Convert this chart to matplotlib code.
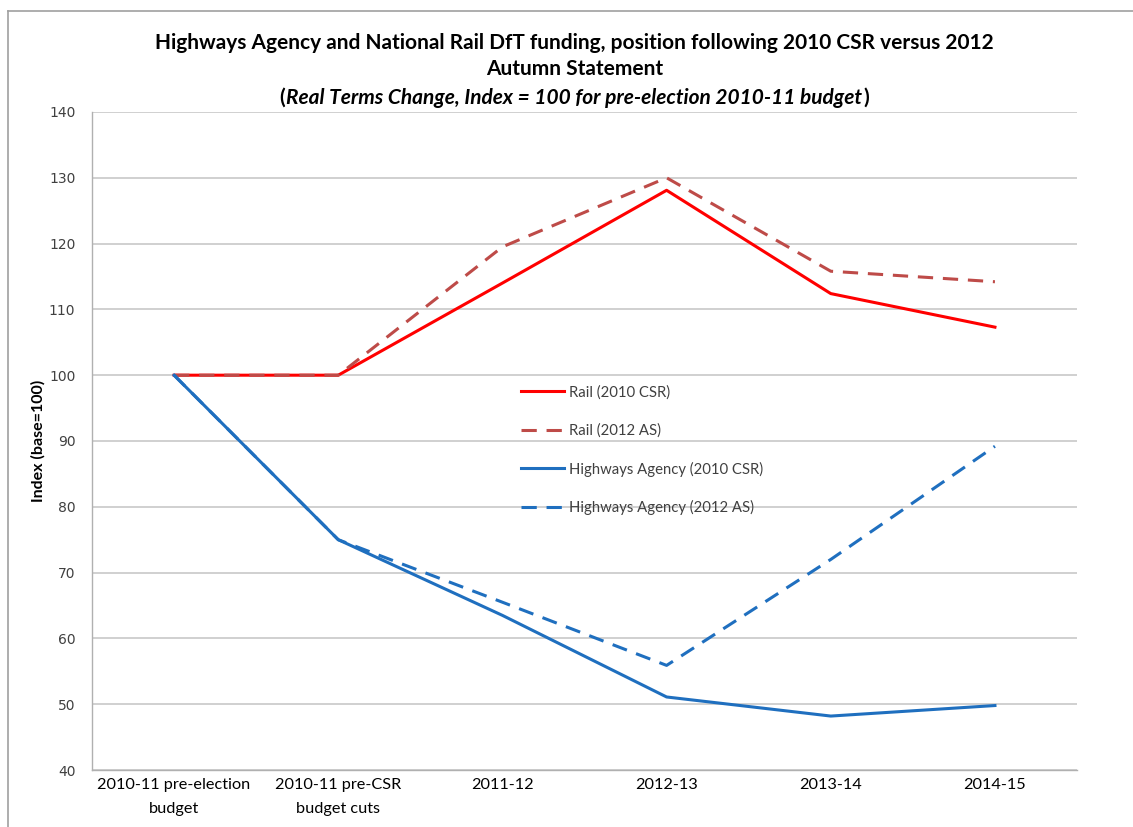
import numpy as np
import matplotlib
matplotlib.use("Agg")
import matplotlib.pyplot as plt
from matplotlib.lines import Line2D
from matplotlib.offsetbox import TextArea, HPacker, AnchoredOffsetbox

# categories and series (index, real terms)
categories = ["2010-11 pre-election\nbudget", "2010-11 pre-CSR\nbudget cuts",
              "2011-12", "2012-13", "2013-14", "2014-15"]
rail_csr = [100, 100, 114.0, 128.1, 112.4, 107.3]
rail_as = [100, 100, 119.5, 130.0, 115.8, 114.2]
ha_csr = [100, 75, 63.5, 51.1, 48.2, 49.8]
ha_as = [100, 75, 65.5, 55.9, 72.0, 89.2]
yticks = [40, 50, 60, 70, 80, 90, 100, 110, 120, 130, 140]

plt.rcParams['font.family'] = ['Lato', 'DejaVu Sans']
txtcol = '#404040'

fig = plt.figure(figsize=(11.33, 8.27), dpi=100)
ax = fig.add_axes([0.0812, 0.0689, 0.8694, 0.7957])

x = np.arange(len(categories))
lw = 2.2
ax.plot(x, rail_csr, color='#FF0000', lw=lw, label='Rail (2010 CSR)')
ax.plot(x, rail_as, color='#BE4B48', lw=lw, dashes=(5, 3.2), label='Rail (2012 AS)')
ax.plot(x, ha_csr, color='#1F6FBF', lw=lw, label='Highways Agency (2010 CSR)')
ax.plot(x, ha_as, color='#1F6FBF', lw=lw, dashes=(5, 3.2), label='Highways Agency (2012 AS)')

ax.set_xlim(-0.5, len(categories) - 0.5)
ax.set_ylim(40, 140)
ax.set_yticks(yticks)
ax.set_xticks(x)
ax.set_xticklabels(categories, fontsize=11.7, color='black', linespacing=1.9)
ax.tick_params(axis='x', length=0, pad=6)
ax.tick_params(axis='y', length=0, pad=12, labelsize=10, labelcolor=txtcol)
for lab in ax.get_yticklabels():
    lab.set_family('DejaVu Sans')

ax.grid(axis='y', color='#C8C8C8', lw=1.2)
ax.set_axisbelow(True)
for s in ['top', 'right']:
    ax.spines[s].set_visible(False)
for s in ['left', 'bottom']:
    ax.spines[s].set_color('#B0B0B0')
    ax.spines[s].set_linewidth(1.0)

ax.set_ylabel('Index (base=100)', fontsize=11.5, fontweight='bold', labelpad=2)

leg = ax.legend(loc='upper left', bbox_to_anchor=(0.422, 0.605), frameon=False,
                fontsize=10.7, handlelength=2.9, labelspacing=1.6,
                handletextpad=0.3)
for t in leg.get_texts():
    t.set_color(txtcol)

# title
tsize = 15
fig.text(0.507, 0.948, 'Highways Agency and National Rail DfT funding, position following 2010 CSR versus 2012',
         ha='center', va='center', fontsize=tsize, fontweight='bold')
fig.text(0.507, 0.917, 'Autumn Statement', ha='center', va='center',
         fontsize=tsize, fontweight='bold')
parts = [TextArea('(', textprops=dict(fontsize=tsize, fontweight='bold')),
         TextArea('Real Terms Change, Index = 100 for pre-election 2010-11 budget',
                  textprops=dict(fontsize=tsize, fontweight='bold', style='italic')),
         TextArea(')', textprops=dict(fontsize=tsize, fontweight='bold'))]
box = HPacker(children=parts, align='baseline', pad=0, sep=1)
ab = AnchoredOffsetbox(loc='center', child=box, frameon=False,
                       bbox_to_anchor=(0.507, 0.882), bbox_transform=fig.transFigure,
                       borderpad=0, pad=0)
fig.add_artist(ab)

# chart border (left and top)
fig.add_artist(Line2D([8 / 1133, 8 / 1133], [0, 1 - 11 / 827], color='#A0A0A0', lw=1.2,
                      transform=fig.transFigure))
fig.add_artist(Line2D([8 / 1133, 1], [1 - 11 / 827, 1 - 11 / 827], color='#A0A0A0', lw=1.2,
                      transform=fig.transFigure))

fig.savefig('out.png', dpi=100)
